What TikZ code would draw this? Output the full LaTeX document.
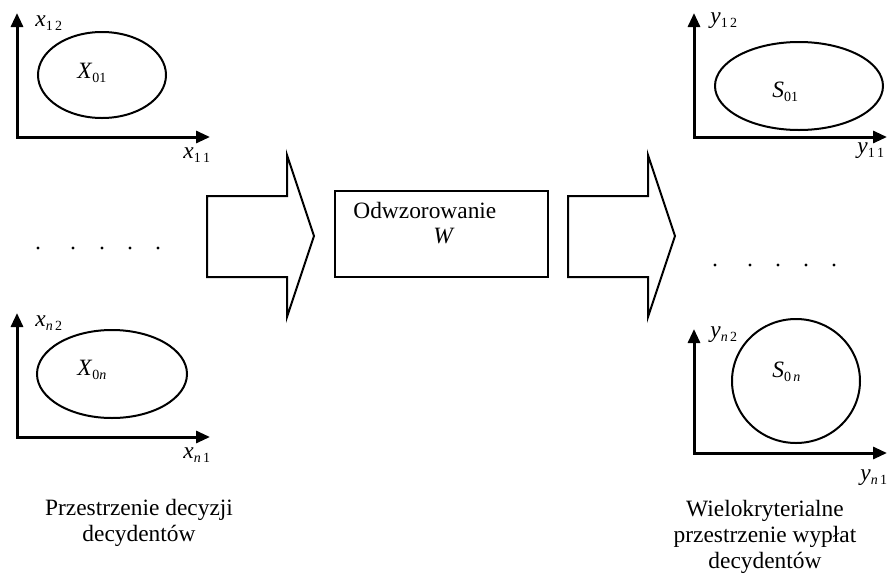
\documentclass[tikz,border=0pt]{standalone}
\usepackage{fontspec}
\setmainfont{Liberation Serif}
\usepackage{tikz}
\usetikzlibrary{arrows.meta,shapes.geometric,positioning}

\newcommand{\lbl}[2]{\textit{#1}\raisebox{-0.45ex}{\fontsize{7}{8}\selectfont #2}}

\begin{document}
\begin{tikzpicture}[x=0.5pt,y=-0.5pt,>={Triangle[length=7pt,width=6pt]},
 every node/.style={font=\fontsize{11.7}{13}\selectfont},
 axis/.style={line width=1.5pt,<->},
 set/.style={draw,ellipse,line width=1pt,inner sep=0pt},
 tag/.style={anchor=base west,inner sep=0pt},
 fat/.style={draw,line width=1pt,line join=miter}]
 \useasboundingbox (0,0) rectangle (890,574);

 \coordinate (o1) at (17,137);
 \coordinate (on) at (17,437);
 \coordinate (p1) at (694,137);
 \coordinate (pn) at (694,453);
 \foreach \o in {o1,on,p1,pn}
  \draw[axis] (\o) ++(0,-124) |- ++(193,124);

 \node[set,minimum width=64pt,minimum height=43pt] (X1) at (102,75) {};
 \node[set,minimum width=75pt,minimum height=44pt] (Xn) at (112,374) {};
 \node[set,minimum width=84pt,minimum height=44pt] (S1) at (799,86) {};
 \node[set,minimum width=64pt,minimum height=62pt] (Sn) at (796,381) {};

 \node[tag] (x12) at (35,26) {\lbl{x}{1\,2}};
 \node[tag] (x11) at (183,158) {\lbl{x}{1\,1}};
 \node[tag] (X01) at (77,78) {\lbl{X}{01}};
 \node[tag] (xn2) at (35,326) {\lbl{x}{\textit{n}\,2}};
 \node[tag] (xn1) at (183,458) {\lbl{x}{\textit{n}\,1}};
 \node[tag] (X0n) at (77,375) {\lbl{X}{0\textit{n}}};
 \node[tag] (y12) at (710,23) {\lbl{y}{1\,2}};
 \node[tag] (y11) at (857,153) {\lbl{y}{1\,1}};
 \node[tag] (S01) at (772,97) {\lbl{S}{01}};
 \node[tag] (yn2) at (710,337) {\lbl{y}{\textit{n}\,2}};
 \node[tag] (yn1) at (860,480) {\lbl{y}{\textit{n}\,1}};
 \node[tag] (S0n) at (772,377) {\lbl{S}{0\,\textit{n}}};

 \foreach \x in {38,73,102,130,158}
  \fill (\x,248) circle (0.8pt);
 \foreach \x in {715,750,778,806,834}
  \fill (\x,265) circle (0.8pt);

 \foreach \dx in {0,361}
  \draw[fat,shift={(\dx,0)}] (207,196) -- (287,196) -- (287,155) -- (314,236)
   -- (287,317) -- (287,277) -- (207,277) -- cycle;

 \node[fat,minimum width=106.5pt,minimum height=43pt] (map) at (441.5,234) {};
 \node[tag] (odw) at (353,218) {Odwzorowanie};
 \node[tag] (W) at (433,243) {\textit{W}};

 \node[align=center,inner sep=0pt] (dec) at (139,523) {Przestrzenie decyzji\\decydentów};
 \node[align=center,inner sep=0pt] (pay) at (765,537) {Wielokryterialne\\przestrzenie wypłat\\decydentów};
\end{tikzpicture}
\end{document}
